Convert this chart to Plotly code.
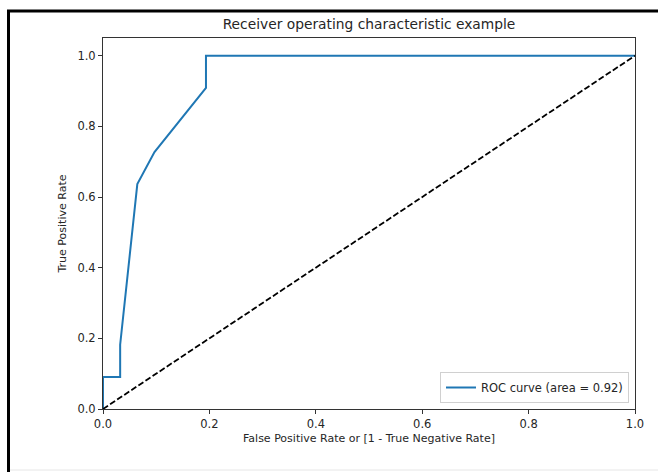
import plotly.graph_objects as go

# ROC curve points (false positive rate, true positive rate)
fpr = [0.0, 0.0, 1/31, 1/31, 2/31, 3/31, 6/31, 6/31, 1.0]
tpr = [0.0, 1/11, 1/11, 2/11, 7/11, 8/11, 10/11, 1.0, 1.0]
roc_auc = 0.92

# Chance diagonal
chance_x = [0.0, 1.0]
chance_y = [0.0, 1.0]

tick_vals = [0.0, 0.2, 0.4, 0.6, 0.8, 1.0]
tick_text = ["0.0", "0.2", "0.4", "0.6", "0.8", "1.0"]

W, H = 658, 472
L, R, T, B = 103, 23, 38, 63
pw, ph = W - L - R, H - T - B

def px_x(p):
    return (p - L) / pw

def px_y(p):
    return (H - B - p) / ph

font = "DejaVu Sans, Verdana, sans-serif"
text_color = "#262626"

fig = go.Figure()
fig.add_trace(go.Scatter(
    x=fpr, y=tpr, mode="lines",
    line=dict(color="#1f77b4", width=2),
    name="ROC curve (area = %0.2f)" % roc_auc,
))
fig.add_trace(go.Scatter(
    x=chance_x, y=chance_y, mode="lines",
    line=dict(color="black", width=1.8, dash="6px,2.5px"),
    showlegend=False,
))

axis_common = dict(
    showline=True, linecolor="#333333", linewidth=1, mirror=True,
    ticks="outside", ticklen=4, tickwidth=1, tickcolor="#333333",
    showgrid=False, zeroline=False, layer="above traces",
    tickvals=tick_vals, ticktext=tick_text,
    tickfont=dict(family=font, size=11.5, color=text_color),
)

fig.update_layout(
    width=W, height=H,
    margin=dict(l=L, r=R, t=T, b=B),
    paper_bgcolor="white", plot_bgcolor="white",
    font=dict(family=font, color=text_color),
    title=dict(
        text="Receiver operating characteristic example",
        x=(L + pw / 2) / W, xanchor="center",
        y=1 - 24 / H, yanchor="middle", yref="container",
        font=dict(family=font, size=13.8, color=text_color),
    ),
    xaxis=dict(
        range=[0, 1], **axis_common,
        title=dict(text="False Positive Rate or [1 - True Negative Rate]",
                   font=dict(family=font, size=11, color=text_color), standoff=4),
    ),
    yaxis=dict(
        range=[0, 1.05], **axis_common,
        title=dict(text="True Positive Rate",
                   font=dict(family=font, size=11, color=text_color), standoff=8),
    ),
    legend=dict(
        x=px_x(629), y=px_y(403), xanchor="right", yanchor="bottom",
        bgcolor="white", bordercolor="#d0d0d0", borderwidth=1,
        font=dict(family=font, size=11.5, color=text_color),
        itemwidth=30, tracegroupgap=0,
    ),
    showlegend=True,
    shapes=[
        # outer frame: thick left and top edges, faint bottom edge
        dict(type="line", xref="paper", yref="paper",
             x0=px_x(8.5), x1=px_x(8.5), y0=px_y(10), y1=px_y(H + 2),
             line=dict(color="black", width=3)),
        dict(type="line", xref="paper", yref="paper",
             x0=px_x(7), x1=px_x(W + 2), y0=px_y(11), y1=px_y(11),
             line=dict(color="black", width=3)),
        dict(type="line", xref="paper", yref="paper",
             x0=px_x(10), x1=px_x(W), y0=px_y(470), y1=px_y(470),
             line=dict(color="#e6e6e6", width=1)),
    ],
)

fig.write_html("out.html")
